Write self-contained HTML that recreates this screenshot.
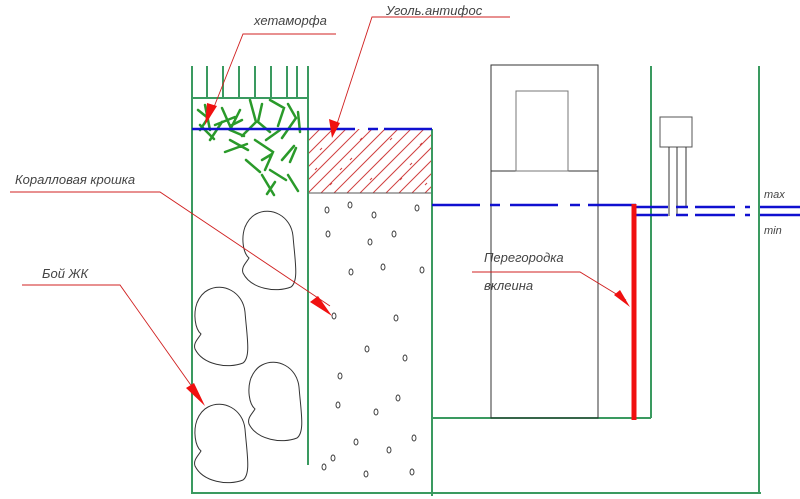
<!DOCTYPE html>
<html><head><meta charset="utf-8"><style>
html,body{margin:0;padding:0;background:#fff;width:800px;height:499px;overflow:hidden}
text{font-family:"Liberation Sans",sans-serif;font-style:italic;font-size:13px;fill:#444}
</style></head><body>
<svg width="800" height="499" viewBox="0 0 800 499" xmlns="http://www.w3.org/2000/svg">
<defs>
<clipPath id="hc"><rect x="308" y="129" width="124" height="64"/></clipPath>
<path id="st" d="M15,3 C30,-5 50,5 52,25 C54,50 58,70 50,76 C35,82 10,78 2,62 C0,56 5,52 8,47 C2,42 0,27 4,16 C7,9 11,5 15,3 Z" fill="none" stroke="#333" stroke-width="1"/>
</defs>
<g clip-path="url(#hc)" stroke="#d04040" stroke-width="1">
<path d="M298,203 l80,-80 M311,203 l80,-80 M324,203 l80,-80 M337,203 l80,-80 M350,203 l80,-80 M363,203 l80,-80 M376,203 l80,-80 M389,203 l80,-80 M402,203 l80,-80 M415,203 l80,-80 M428,203 l80,-80 M285,203 l80,-80 M272,203 l80,-80 M259,203 l80,-80 M246,203 l80,-80"/>
<path d="M320,150 l2,-2 M340,170 l2,-2 M360,140 l2,-2 M380,160 l2,-2 M400,180 l2,-2 M420,145 l2,-2 M330,185 l2,-2 M350,160 l2,-2 M370,180 l2,-2 M390,140 l2,-2 M410,165 l2,-2 M425,185 l2,-2 M315,170 l2,-2"/>
</g>
<line x1="308" y1="193" x2="432" y2="193" stroke="#555" stroke-width="1"/>
<g stroke="#3a9a60" stroke-width="2" fill="none">
<line x1="192" y1="66" x2="192" y2="494"/>
<line x1="308" y1="66" x2="308" y2="465"/>
<line x1="192" y1="98" x2="308" y2="98"/>
<line x1="207" y1="66" x2="207" y2="98"/><line x1="223" y1="66" x2="223" y2="98"/><line x1="239" y1="66" x2="239" y2="98"/><line x1="255" y1="66" x2="255" y2="98"/><line x1="271" y1="66" x2="271" y2="98"/><line x1="287" y1="66" x2="287" y2="98"/><line x1="297" y1="66" x2="297" y2="98"/>
<line x1="432" y1="129" x2="432" y2="496"/>
<line x1="192" y1="493" x2="761" y2="493"/>
<line x1="432" y1="418" x2="651" y2="418"/>
<line x1="651" y1="66" x2="651" y2="418"/>
<line x1="759" y1="66" x2="759" y2="493"/>
</g>
<g stroke="#2a9a2a" stroke-width="2.5" fill="none" stroke-linecap="round">
<path d="M198,110 l10,8 l-8,12 M205,105 l5,25 M215,125 l20,-8 M222,108 l8,18 l12,-6 M240,110 l-10,20 l14,6 M250,100 l6,22 l-14,14 M262,104 l-4,18 l12,10 M270,100 l14,8 l-6,18 M288,104 l8,14 l-14,20 M298,112 l2,20 M230,140 l18,10 M225,152 l22,-8 M255,140 l18,12 l-8,18 M262,160 l10,-6 M270,170 l16,10 M282,160 l12,-14 M288,175 l10,16 M275,182 l-8,12 M262,175 l12,20 M210,140 l12,-18 M246,160 l14,12 M200,125 l14,14 M280,130 l-14,10 M296,148 l-6,14"/>
</g>
<use href="#st" x="241" y="211"/>
<use href="#st" x="193" y="287"/>
<use href="#st" x="247" y="362"/>
<use href="#st" x="193" y="404"/>
<g fill="none" stroke="#333" stroke-width="0.9">
<ellipse cx="327" cy="210" rx="2" ry="3"/><ellipse cx="350" cy="205" rx="2" ry="3"/><ellipse cx="374" cy="215" rx="2" ry="3"/><ellipse cx="417" cy="208" rx="2" ry="3"/>
<ellipse cx="328" cy="234" rx="2" ry="3"/><ellipse cx="370" cy="242" rx="2" ry="3"/><ellipse cx="394" cy="234" rx="2" ry="3"/>
<ellipse cx="351" cy="272" rx="2" ry="3"/><ellipse cx="383" cy="267" rx="2" ry="3"/><ellipse cx="422" cy="270" rx="2" ry="3"/>
<ellipse cx="334" cy="316" rx="2" ry="3"/><ellipse cx="396" cy="318" rx="2" ry="3"/>
<ellipse cx="367" cy="349" rx="2" ry="3"/><ellipse cx="405" cy="358" rx="2" ry="3"/>
<ellipse cx="340" cy="376" rx="2" ry="3"/><ellipse cx="338" cy="405" rx="2" ry="3"/><ellipse cx="376" cy="412" rx="2" ry="3"/><ellipse cx="398" cy="398" rx="2" ry="3"/>
<ellipse cx="356" cy="442" rx="2" ry="3"/><ellipse cx="389" cy="450" rx="2" ry="3"/><ellipse cx="414" cy="438" rx="2" ry="3"/>
<ellipse cx="333" cy="458" rx="2" ry="3"/><ellipse cx="324" cy="467" rx="2" ry="3"/><ellipse cx="366" cy="474" rx="2" ry="3"/><ellipse cx="412" cy="472" rx="2" ry="3"/>
</g>
<g fill="none" stroke="#333" stroke-width="1">
<rect x="491" y="65" width="107" height="353"/>
<line x1="491" y1="171" x2="598" y2="171"/>
<rect x="516" y="91" width="52" height="80" stroke="#777"/>
<rect x="660" y="117" width="32" height="30" stroke="#555"/>
<line x1="669" y1="147" x2="669" y2="216"/><line x1="677" y1="147" x2="677" y2="216"/><line x1="686" y1="147" x2="686" y2="206"/>
</g>
<g stroke="#1010d0" stroke-width="2.5" fill="none">
<path d="M192,129 H355 M368,129 H378 M384,129 H432" />
<path d="M432,205 H480 M490,205 H500 M510,205 H558 M570,205 H580 M588,205 H636"/>
<path d="M636,207 H668 M676,207 H688 M695,207 H735 M745,207 H750 M760,207 H800"/>
<path d="M636,215 H668 M676,215 H688 M695,215 H735 M745,215 H750 M760,215 H800"/>
</g>
<line x1="634" y1="204" x2="634" y2="420" stroke="#f01010" stroke-width="5"/>
<g stroke="#d02020" stroke-width="0.9" fill="none">
<path d="M336,34 H243 L212,112"/>
<path d="M510,17 H372 L335,130"/>
<path d="M10,192 H160 L330,306"/>
<path d="M22,285 H120 L200,398"/>
<path d="M472,272 H580 L626,300"/>
</g>
<g fill="#f01010">
<polygon points="205,125 207,103 217,106"/>
<polygon points="332,138 329,119 340,123"/>
<polygon points="332,316 310,302 318,296"/>
<polygon points="205,406 186,388 194,383"/>
<polygon points="630,307 614,295 620,290"/>
</g>
<text x="254" y="25">хетаморфа</text>
<text x="386" y="15">Уголь.антифос</text>
<text x="15" y="184">Коралловая крошка</text>
<text x="42" y="278">Бой ЖК</text>
<text x="484" y="262">Перегородка</text>
<text x="484" y="290">вклеина</text>
<text x="764" y="198" style="font-size:11px">max</text>
<text x="764" y="234" style="font-size:11px">min</text>
</svg>
</body></html>
